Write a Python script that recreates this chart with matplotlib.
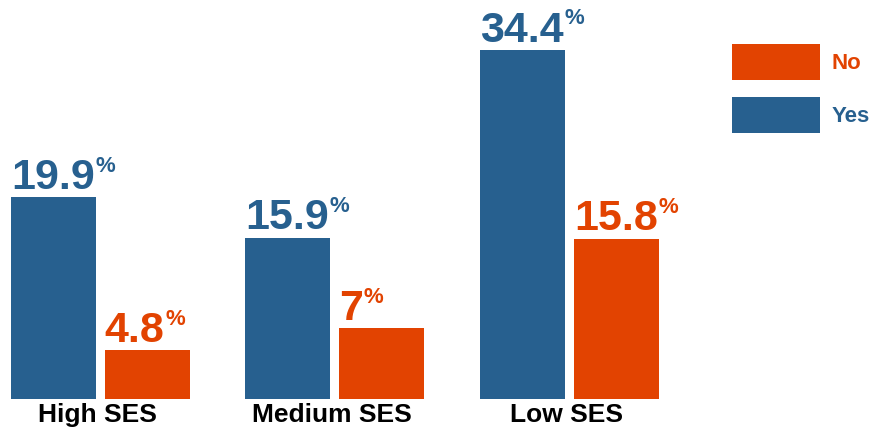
import numpy as np
import matplotlib
matplotlib.use('Agg')
import matplotlib.pyplot as plt

# share of each SES group, by answer
groups = ['High SES', 'Medium SES', 'Low SES']
yes_vals = [19.9, 15.9, 34.4]
no_vals = [4.8, 7, 15.8]

blue = '#27608f'
orange = '#e24301'

plt.rcParams['font.family'] = ['Liberation Sans', 'DejaVu Sans']
plt.rcParams['font.weight'] = 'bold'

fig = plt.figure(figsize=(8.7, 4.29), dpi=100)
ax = fig.add_axes([0, 30 / 429, 1, 399 / 429])

x = np.arange(len(groups))
w = 0.3625
yes_bars = ax.bar(x - 0.2, yes_vals, w, color=blue, label='Yes')
no_bars = ax.bar(x + 0.2, no_vals, w, color=orange, label='No')

ax.set_xlim(-0.428, 3.282)
ax.set_ylim(0, 39.31)
ax.axis('off')


def label(bars, vals, color):
    for b, v in zip(bars, vals):
        t = ax.annotate(f'{v:g}', xy=(b.get_x(), v), xytext=(0, 6),
                        textcoords='offset points', ha='left', va='baseline',
                        fontsize=31, color=color, fontweight='bold')
        ax.annotate('%', xy=(1, 1), xycoords=t, xytext=(0.5, 1.5),
                    textcoords='offset points', ha='left', va='top',
                    fontsize=16, color=color, fontweight='bold')


label(yes_bars, yes_vals, blue)
label(no_bars, no_vals, orange)

# group names under the bars
for i, g in enumerate(groups):
    ax.annotate(g, xy=(x[i], 0), xytext=(-2, -3), textcoords='offset points',
                ha='center', va='top', fontsize=19, fontweight='bold',
                color='black', annotation_clip=False)

leg = ax.legend(handles=[no_bars, yes_bars], labels=['No', 'Yes'],
                loc='upper left', bbox_to_anchor=(732 / 870, 1 - 44 / 429),
                bbox_transform=fig.transFigure, frameon=False,
                fontsize=16, handlelength=3.96, handleheight=2.1,
                labelspacing=0.77, handletextpad=0.5,
                borderpad=0, borderaxespad=0)
for txt, c in zip(leg.get_texts(), [orange, blue]):
    txt.set_color(c)
    txt.set_fontweight('bold')

fig.savefig('out.png', dpi=100)
